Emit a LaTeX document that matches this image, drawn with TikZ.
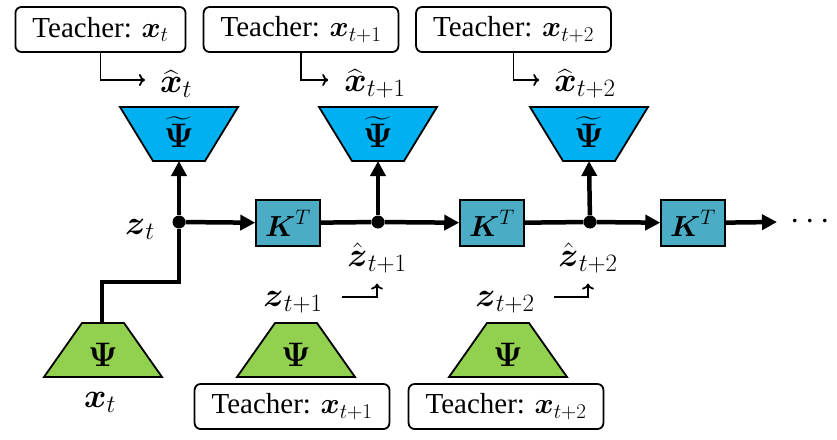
\RequirePackage{fix-cm}
\documentclass[tikz,border=0pt]{standalone}
\usepackage{amsmath}
\usepackage{fontspec}
\setmainfont{Liberation Serif}
\usetikzlibrary{arrows.meta}
\DeclareMathSizes{29}{29}{21}{15}
\DeclareMathSizes{34}{34}{25}{18}
\definecolor{decblue}{HTML}{00B0F0}
\definecolor{kblue}{HTML}{4BACC6}
\definecolor{encgreen}{HTML}{92D050}

\begin{document}
\begin{tikzpicture}[x=1pt,y=-1pt,font=\fontsize{29}{34}\selectfont,
  teacher/.style={draw,rounded corners=6pt,line width=1.8pt,minimum height=45pt,inner xsep=17pt,inner ysep=2pt},
  kbox/.style={draw,line width=1.5pt,fill=kblue,minimum width=64pt,minimum height=46pt,inner sep=0pt},
  lbl/.style={font=\fontsize{34}{40}\selectfont,inner sep=1pt},
  psilbl/.style={font=\fontsize{34}{40}\selectfont,inner sep=0pt},
  flow/.style={line width=4.5pt,-{Triangle[length=15pt,width=15pt]}},
  feed/.style={line width=1.8pt,-{To[length=6pt,width=12pt]}},
  dot/.style={circle,fill,inner sep=0pt,minimum size=13pt}]
\useasboundingbox (0,0) rectangle (837,439);
% decoders
\filldraw[fill=decblue,line width=1.8pt] (120,107)--(238,107)--(205,161)--(153,161)--cycle;
\filldraw[fill=decblue,line width=1.8pt] (319,107)--(437,107)--(404,161)--(352,161)--cycle;
\filldraw[fill=decblue,line width=1.8pt] (530,107)--(648,107)--(615,161)--(563,161)--cycle;
\node[psilbl] (dec1) at (179,132) {$\widetilde{\boldsymbol{\Psi}}$};
\node[psilbl] (dec2) at (378,132) {$\widetilde{\boldsymbol{\Psi}}$};
\node[psilbl] (dec3) at (589,132) {$\widetilde{\boldsymbol{\Psi}}$};
\coordinate (dec1b) at (179,161);
\coordinate (dec2b) at (378,161);
\coordinate (dec3b) at (589,161);
% encoders
\filldraw[fill=encgreen,line width=1.8pt] (82,323)--(124,323)--(162,377)--(44,377)--cycle;
\filldraw[fill=encgreen,line width=1.8pt] (275,323)--(317,323)--(355,377)--(237,377)--cycle;
\filldraw[fill=encgreen,line width=1.8pt] (487,323)--(529,323)--(567,377)--(449,377)--cycle;
\node[psilbl] (enc1) at (103,355) {$\boldsymbol{\Psi}$};
\node[psilbl] (enc2) at (296,355) {$\boldsymbol{\Psi}$};
\node[psilbl] (enc3) at (508,355) {$\boldsymbol{\Psi}$};
\coordinate (enc1t) at (102,323);
% teachers
\node[teacher] (tt1) at (100.5,29.5) {Teacher: $\boldsymbol{x}_t$};
\node[teacher] (tt2) at (301,29.5) {Teacher: $\boldsymbol{x}_{t+1}$};
\node[teacher] (tt3) at (513.5,29.5) {Teacher: $\boldsymbol{x}_{t+2}$};
\node[teacher] (tb2) at (292,406.5) {Teacher: $\boldsymbol{x}_{t+1}$};
\node[teacher] (tb3) at (506,406.5) {Teacher: $\boldsymbol{x}_{t+2}$};
% labels
\node[lbl] (xh1) at (176,84) {$\widehat{\boldsymbol{x}}_t$};
\node[lbl] (xh2) at (375,84) {$\widehat{\boldsymbol{x}}_{t+1}$};
\node[lbl] (xh3) at (585,84) {$\widehat{\boldsymbol{x}}_{t+2}$};
\node[lbl] (zl1) at (140,229) {$\boldsymbol{z}_t$};
\node[lbl] (zh2) at (377,258) {$\hat{\boldsymbol{z}}_{t+1}$};
\node[lbl] (zh3) at (588,258) {$\hat{\boldsymbol{z}}_{t+2}$};
\node[lbl] (zl2) at (293,302) {$\boldsymbol{z}_{t+1}$};
\node[lbl] (zl3) at (505,302) {$\boldsymbol{z}_{t+2}$};
\node[lbl] (xl1) at (100,402) {$\boldsymbol{x}_t$};
% koopman chain
\node[dot] (d1) at (179,222) {};
\node[dot] (d2) at (378,222) {};
\node[dot] (d3) at (590,222) {};
\node[kbox] (k1) at (288,223) {$\boldsymbol{K}^T$};
\node[kbox] (k2) at (492,223) {$\boldsymbol{K}^T$};
\node[kbox] (k3) at (693,223) {$\boldsymbol{K}^T$};
\coordinate (end) at (777,222);
\node[lbl] (more) at (813,222) {$\cdots$};
\draw[flow] (d1) -- (k1);
\draw[line width=4.5pt] (k1) -- (d2);
\draw[flow] (d2) -- (k2);
\draw[line width=4.5pt] (k2) -- (d3);
\draw[flow] (d3) -- (k3);
\draw[flow] (k3) -- (end);
\draw[flow] (d1) -- (dec1b);
\draw[flow] (d2) -- (dec2b);
\draw[flow] (d3) -- (dec3b);
\draw[line width=4.5pt] (enc1t) -- ++(0,-41) -| (d1);
% teacher feeds
\draw[feed] (tt1.south) |- ([xshift=-14pt,yshift=4pt]xh1.west);
\draw[feed] (tt2.south) |- ([xshift=-15pt,yshift=4pt]xh2.west);
\draw[feed] (tt3.south) |- ([xshift=-14pt,yshift=4pt]xh3.west);
\draw[feed] ([xshift=18pt,yshift=5pt]zl2.east) -| ([yshift=-9pt]zh2.south);
\draw[feed] ([xshift=18pt,yshift=5pt]zl3.east) -| ([yshift=-9pt]zh3.south);
\end{tikzpicture}
\end{document}
